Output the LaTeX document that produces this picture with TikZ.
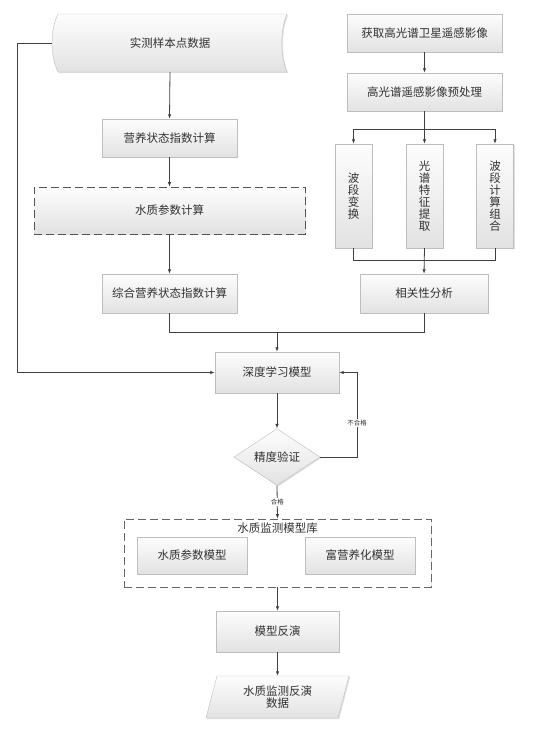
\documentclass[tikz,border=0pt]{standalone}
\usepackage{fontspec}
\setmainfont{Noto Sans CJK SC}
\usetikzlibrary{arrows.meta,positioning,calc,shapes.geometric,shadows}
\definecolor{boxline}{RGB}{190,190,190}
\definecolor{boxtop}{RGB}{253,253,253}
\definecolor{boxbot}{RGB}{226,226,226}
\definecolor{linecol}{RGB}{64,64,64}
\definecolor{txtcol}{RGB}{50,50,50}

\begin{document}
\begin{tikzpicture}[x=1pt,y=-1pt,
  every node/.style={text=txtcol,font=\fontsize{11.5}{12}\selectfont},
  box/.style={draw=boxline,top color=boxtop,bottom color=boxbot,inner sep=1pt,
    drop shadow={shadow xshift=1.2pt,shadow yshift=-1.2pt,fill=black,opacity=0.12}},
  dbox/.style={box,draw=linecol!90,dash pattern=on 8pt off 4pt,line width=0.7pt},
  vbox/.style={box,minimum width=37,minimum height=104,align=center},
  lbl/.style={fill=white,inner sep=1pt,font=\fontsize{6.5}{7}\selectfont},
  ln/.style={draw=linecol,line width=0.8pt},
  arr/.style={ln,-{Latex[length=4.5pt,width=3.5pt]}}]
  \useasboundingbox (0,0) rectangle (537,734);
  % stored data shape
  \shade[top color=boxtop,bottom color=boxbot,draw=boxline,
    drop shadow={shadow xshift=1.2pt,shadow yshift=-1.2pt,fill=black,opacity=0.12}]
    (58,14) -- (287,14) .. controls (280,30) and (280,56) .. (287,72)
    -- (58,72) .. controls (50,56) and (50,30) .. (58,14) -- cycle;
  \node (sample) at (170,43) [minimum width=235,minimum height=58] {实测样本点数据};
  \node[box,minimum width=135,minimum height=38] (tsi) at (169.5,138) {营养状态指数计算};
  \node[dbox,minimum width=271,minimum height=47] (wqp) at (169.5,210.5) {水质参数计算};
  \node[box,minimum width=135,minimum height=39] (tli) at (169.5,293.5) {综合营养状态指数计算};
  % remote sensing branch
  \node[box,minimum width=155,minimum height=38] (acq) at (424.5,33) {获取高光谱卫星遥感影像};
  \node[box,minimum width=155,minimum height=38] (prep) at (424.5,92) {高光谱遥感影像预处理};
  \node[vbox] (bt) at (353.5,196) {波\\段\\变\\换};
  \node[vbox] (sf) at (424.5,196) {光\\谱\\特\\征\\提\\取};
  \node[vbox] (bc) at (495,196) {波\\段\\计\\算\\组\\合};
  \node[box,minimum width=128,minimum height=39] (corr) at (424,293.5) {相关性分析};
  % model part
  \node[box,minimum width=124,minimum height=41] (dl) at (277,372.5) {深度学习模型};
  \node[box,diamond,inner sep=0pt,minimum width=86,minimum height=56] (acc) at (277,457) {精度验证};
  \node[dbox,draw=linecol!80,top color=white,bottom color=white,drop shadow={opacity=0},
    minimum width=307,minimum height=68] (lib) at (277.5,553) {};
  \node (libt) at (277.5,528) {水质监测模型库};
  \node[box,minimum width=110,minimum height=37] (wqm) at (192,555.5) {水质参数模型};
  \node[box,minimum width=110,minimum height=37] (eut) at (360,555.5) {富营养化模型};
  \node[box,minimum width=123,minimum height=41] (inv) at (277.5,631.5) {模型反演};
  \node[box,trapezium,trapezium left angle=66,trapezium right angle=114,trapezium stretches body,
    minimum width=143,minimum height=42,align=center] (out) at (277.5,697) {水质监测反演\\数据};
  \coordinate (lft) at (17,43);
  \coordinate (split) at (424.5,129);
  \coordinate (join) at (424.5,260);
  \coordinate (mrg) at (277,332);
  \coordinate (fb) at (357,457);
  % connectors
  \draw[arr] (sample.south) -- (tsi.north);
  \draw[arr] (tsi) -- (wqp);
  \draw[arr] (wqp) -- (tli);
  \draw[arr] (acq) -- (prep);
  \draw[ln] (prep.south) -- (split);
  \foreach \b in {bt,sf,bc}{\draw[arr] (split) -| (\b.north);}
  \foreach \b in {bt,bc}{\draw[ln] (\b.south) |- (join);}
  \draw[arr] (sf.south) -- (corr.north);
  \draw[ln] (tli.south) |- (mrg);
  \draw[ln] (corr.south) |- (mrg);
  \draw[arr] (mrg) -- (dl.north);
  \draw[arr] (sample.west) -- (lft) |- (dl.west);
  \draw[arr] (dl) -- (acc);
  \draw[arr] (acc.east) -- (fb) -- node[lbl,pos=0.4]{不合格} (fb |- dl.east) -- (dl.east);
  \draw[arr] (acc.south) -- node[lbl]{合格} (lib.north);
  \draw[arr] (lib.south) -- (inv.north);
  \draw[arr] (inv) -- (out);
\end{tikzpicture}
\end{document}
